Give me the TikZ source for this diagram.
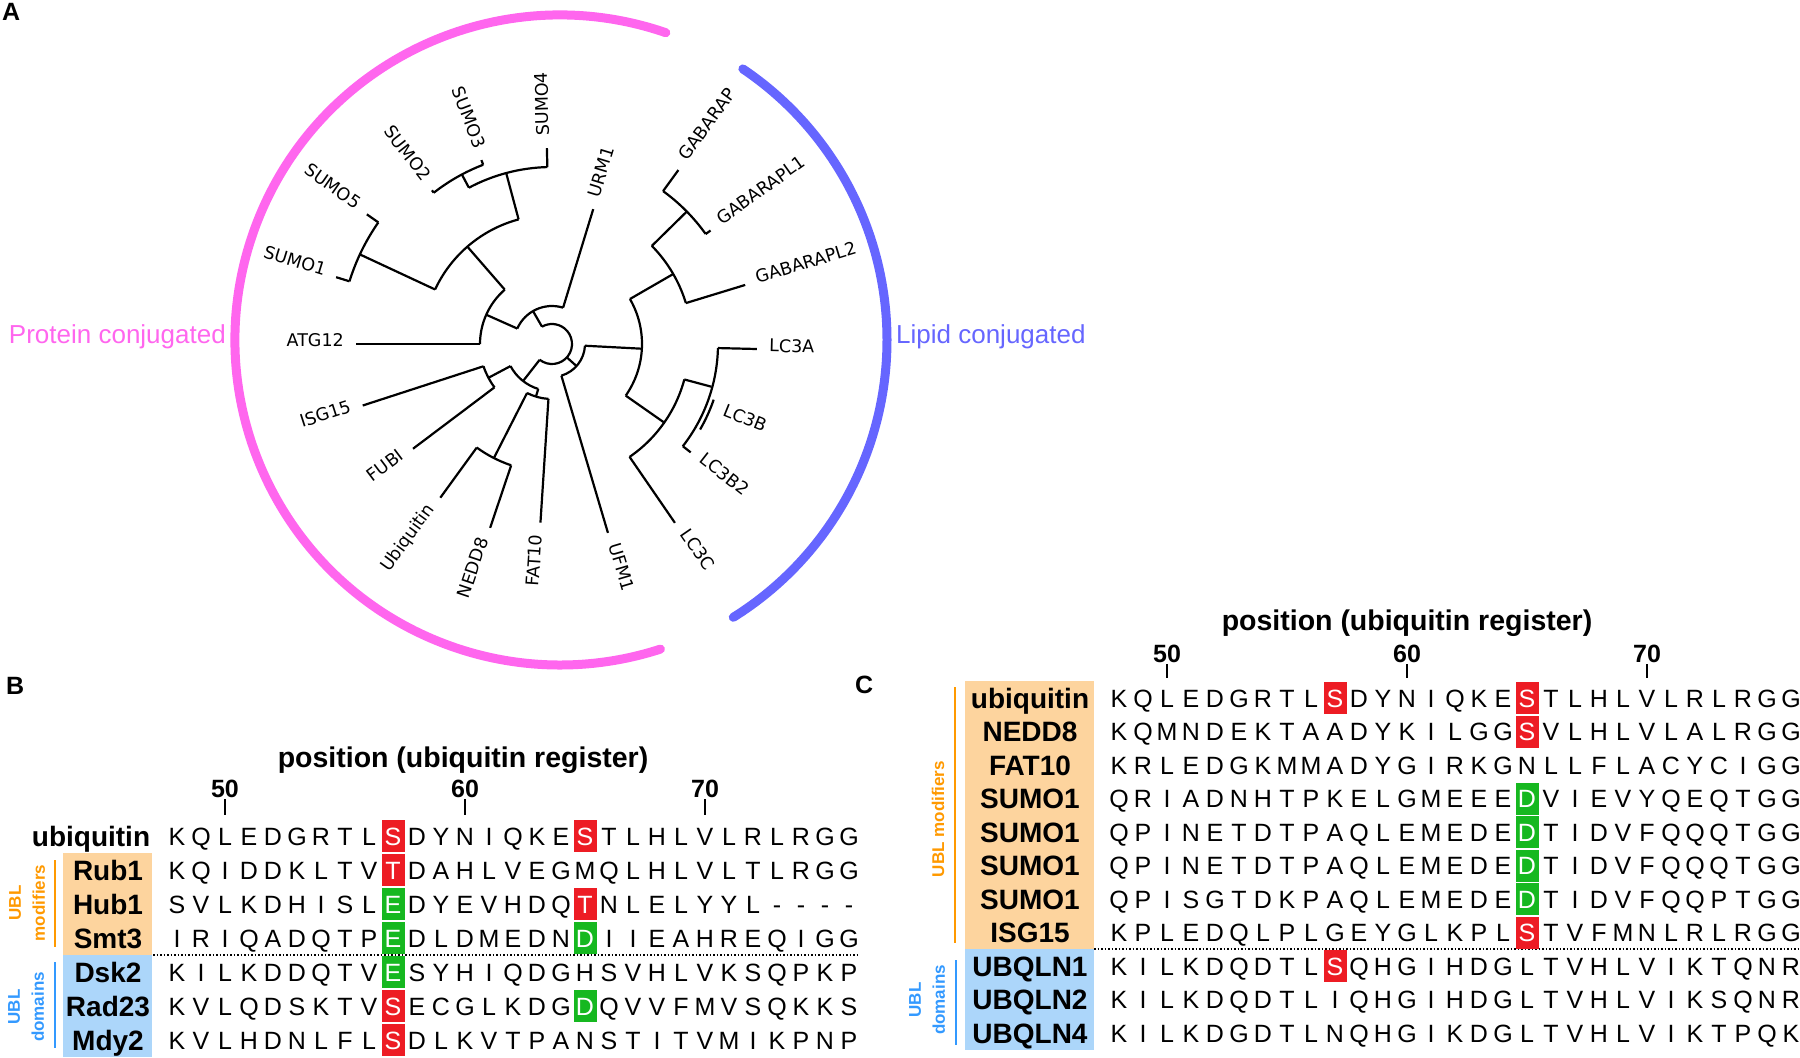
\documentclass[tikz,border=0pt]{standalone}
\usepackage{fontspec}
\setmainfont{Liberation Sans}
\newfontfamily\treefont{DejaVu Sans}

\definecolor{protpink}{RGB}{255,102,238}
\definecolor{lipidblue}{RGB}{102,102,255}
\definecolor{hlred}{RGB}{237,28,36}
\definecolor{hlgreen}{RGB}{22,184,32}
\definecolor{ublorange}{RGB}{255,153,0}
\definecolor{ublorangebg}{RGB}{253,212,158}
\definecolor{ublblue}{RGB}{51,153,255}
\definecolor{ublbluebg}{RGB}{172,214,250}

% one row of residues: #1 name, #2 x of residue 48, #3 row centre, #4 letters
% (! before a letter = red box, + before a letter = green box)
\newcount\rescol
\def\hlcol{}
\def\endres{endres-marker}
\newcommand\seqrow[4]{\global\rescol=0 \def\rowname{#1}\def\rowx{#2}\def\rowy{#3}\readres#4\endres}
\def\readres#1{%
  \ifx#1\endres \let\resnext\relax
  \else\ifx#1!\def\hlcol{hlred}\let\resnext\readres
  \else\ifx#1+\def\hlcol{hlgreen}\let\resnext\readres
  \else\putres{#1}\let\resnext\readres
  \fi\fi\fi\resnext}
\def\putres#1{%
  \ifx\hlcol\empty
    \node[res] (\rowname-\the\rescol) at (\rowx+24*\the\rescol, \rowy+9) {#1};%
  \else
    \fill[\hlcol] (\rowx+24*\the\rescol-11.5, \rowy-16) rectangle (\rowx+24*\the\rescol+11.5, \rowy+16);%
    \node[res, text=white] (\rowname-\the\rescol) at (\rowx+24*\the\rescol, \rowy+9) {#1};%
  \fi
  \global\advance\rescol by 1 \def\hlcol{}}

\begin{document}
\begin{tikzpicture}[x=1pt, y=-1pt,
    tree/.style={line width=2.2pt},
    leaf/.style={font=\treefont\fontsize{17.5}{18}\selectfont, inner sep=0pt},
    clade/.style={line width=9pt, line cap=round},
    res/.style={font=\fontsize{25}{25}\selectfont, anchor=base, inner sep=0pt},
    rowname/.style={font=\fontsize{28}{28}\selectfont\bfseries, anchor=base, inner sep=0pt},
    axislabel/.style={font=\fontsize{28.5}{28.5}\selectfont\bfseries, anchor=base, inner sep=0pt},
    ticknum/.style={font=\fontsize{25}{25}\selectfont\bfseries, anchor=base, inner sep=0pt},
    tickmark/.style={line width=2pt},
    panel/.style={font=\fontsize{25}{25}\selectfont\bfseries, anchor=base west, inner sep=0pt},
    ubl/.style={font=\fontsize{17}{24}\selectfont\bfseries, rotate=90, align=center, inner sep=0pt},
    conj/.style={font=\fontsize{26}{26}\selectfont, inner sep=0pt}]
    \useasboundingbox (0,0) rectangle (1800,1058);

    % ---- A: tree ----
    \node[panel] (lab-a) at (2,20) {A};
    \begin{scope}[shift={(560,340)}]
        \draw[clade, protpink] (71:325pt) arc[start angle=71, end angle=288, radius=325pt];
        \draw[clade, lipidblue] (-58:327pt) arc[start angle=-58, end angle=56, radius=327pt];
    \end{scope}
    \node[conj, text=protpink, anchor=base east] (prot) at (226,343) {Protein conjugated};
    \node[conj, text=lipidblue, anchor=base west] (lipid) at (896,343) {Lipid conjugated};

    \begin{scope}[shift={(552,344)}]
        % root
        \draw[tree] (-128:20pt) arc[start angle=-128, end angle=120, radius=20pt];
        % upper protein clade
        \draw[tree] (120:20pt) -- (120:38pt);
        \draw[tree] (73:38pt) arc[start angle=73, end angle=156, radius=38pt];
        \draw[tree] (73:38pt) -- (73:141pt);
        \draw[tree] (156:38pt) -- (156:72pt);
        \draw[tree] (131:72pt) arc[start angle=131, end angle=180, radius=72pt];
        \draw[tree] (180:72pt) -- (180:196pt);
        \draw[tree] (131:72pt) -- (131:129pt);
        \draw[tree] (105:129pt) arc[start angle=105, end angle=155, radius=129pt];
        \draw[tree] (155:129pt) -- (155:212pt);
        \draw[tree] (145:212pt) arc[start angle=145, end angle=162.8, radius=212pt];
        \draw[tree] (145:212pt) -- (145:226pt);
        \draw[tree] (162.8:212pt) -- (162.8:226pt);
        \draw[tree] (105:129pt) -- (105:177pt);
        \draw[tree] (91.5:177pt) arc[start angle=91.5, end angle=118, radius=177pt];
        \draw[tree] (91.5:177pt) -- (91.5:196pt);
        \draw[tree] (118:177pt) -- (118:192pt);
        \draw[tree] (111:192pt) arc[start angle=111, end angle=128, radius=192pt];
        \draw[tree] (128:192pt) -- (128:195pt);
        \draw[tree] (111:192pt) -- (111:197pt);
        % lower protein clade
        \draw[tree] (232:20pt) -- (232:47pt);
        \draw[tree] (208:47pt) arc[start angle=208, end angle=253, radius=47pt];
        \draw[tree] (208:47pt) -- (208:72pt);
        \draw[tree] (198:72pt) arc[start angle=198, end angle=217, radius=72pt];
        \draw[tree] (198:72pt) -- (198:199pt);
        \draw[tree] (217:72pt) -- (217:174pt);
        \draw[tree] (253:47pt) -- (253:55pt);
        \draw[tree] (243:55pt) arc[start angle=243, end angle=266.3, radius=55pt];
        \draw[tree] (266.3:55pt) -- (266.3:179pt);
        \draw[tree] (243:55pt) -- (243:128pt);
        \draw[tree] (234:128pt) arc[start angle=234, end angle=251.4, radius=128pt];
        \draw[tree] (234:128pt) -- (234:190pt);
        \draw[tree] (251.4:128pt) -- (251.4:194pt);
        % UFM1 and lipid clade
        \draw[tree] (-42:20pt) -- (-42:33pt);
        \draw[tree] (-73.5:33pt) arc[start angle=-73.5, end angle=-3, radius=33pt];
        \draw[tree] (-73.5:33pt) -- (-73.5:197pt);
        \draw[tree] (-3:33pt) -- (-3:90pt);
        \draw[tree] (-35:90pt) arc[start angle=-35, end angle=30, radius=90pt];
        \draw[tree] (30:90pt) -- (30:140pt);
        \draw[tree] (17:140pt) arc[start angle=17, end angle=44.5, radius=140pt];
        \draw[tree] (17:140pt) -- (17:202pt);
        \draw[tree] (44.5:140pt) -- (44.5:189pt);
        \draw[tree] (35.6:189pt) arc[start angle=35.6, end angle=54, radius=189pt];
        \draw[tree] (54:189pt) -- (54:215pt);
        \draw[tree] (35.6:189pt) -- (35.6:195pt);
        \draw[tree] (-35:90pt) -- (-35:137pt);
        \draw[tree] (-55.5:137pt) arc[start angle=-55.5, end angle=-15, radius=137pt];
        \draw[tree] (-55.5:137pt) -- (-55.5:217pt);
        \draw[tree] (-15:137pt) -- (-15:165pt);
        \draw[tree] (-38:166pt) arc[start angle=-38, end angle=-1.4, radius=166pt];
        \draw[tree] (-1.4:166pt) -- (-1.4:205pt);
        \draw[tree] (-38:166pt) -- (-38:176pt);
        \draw[tree] (-30:171pt) arc[start angle=-30, end angle=-19, radius=171pt];
        % leaf labels
        \node[leaf, anchor=mid east, rotate=0] (t-atg12) at (180:208pt) {ATG12};
        \node[leaf, anchor=mid east, rotate=-17.2] (t-sumo1) at (162.8:238pt) {SUMO1};
        \node[leaf, anchor=mid east, rotate=-35] (t-sumo5) at (145:238pt) {SUMO5};
        \node[leaf, anchor=mid east, rotate=-52] (t-sumo2) at (128:207pt) {SUMO2};
        \node[leaf, anchor=mid east, rotate=-69] (t-sumo3) at (111:209pt) {SUMO3};
        \node[leaf, anchor=mid west, rotate=91.5] (t-sumo4) at (91.5:208pt) {SUMO4};
        \node[leaf, anchor=mid west, rotate=73] (t-urm1) at (73:153pt) {URM1};
        \node[leaf, anchor=mid west, rotate=54] (t-gab) at (54:227pt) {GABARAP};
        \node[leaf, anchor=mid west, rotate=35.6] (t-gabl1) at (35.6:207pt) {GABARAPL1};
        \node[leaf, anchor=mid west, rotate=17] (t-gabl2) at (17:214pt) {GABARAPL2};
        \node[leaf, anchor=mid west, rotate=-1.4] (t-lc3a) at (-1.4:217pt) {LC3A};
        \node[leaf, anchor=mid west, rotate=-22] (t-lc3b) at (-22:184pt) {LC3B};
        \node[leaf, anchor=mid west, rotate=-38] (t-lc3b2) at (-38:188pt) {LC3B2};
        \node[leaf, anchor=mid west, rotate=-55.5] (t-lc3c) at (-55.5:229pt) {LC3C};
        \node[leaf, anchor=mid west, rotate=-73.5] (t-ufm1) at (-73.5:209pt) {UFM1};
        \node[leaf, anchor=mid east, rotate=86.3] (t-fat10) at (266.3:191pt) {FAT10};
        \node[leaf, anchor=mid east, rotate=71.4] (t-nedd8) at (251.4:206pt) {NEDD8};
        \node[leaf, anchor=mid east, rotate=54] (t-ubq) at (234:202pt) {Ubiquitin};
        \node[leaf, anchor=mid east, rotate=37] (t-fubi) at (217:186pt) {FUBI};
        \node[leaf, anchor=mid east, rotate=18] (t-isg15) at (198:211pt) {ISG15};
    \end{scope}

    % ---- B: yeast alignment ----
    \node[panel] (lab-b) at (6,694) {B};
    \node[axislabel] (b-axis) at (463,767) {position (ubiquitin register)};
    \foreach \p/\x in {50/225, 60/465, 70/705} {
        \node[ticknum] (b-tick\p) at (\x,797) {\p};
        \draw[tickmark] (\x,799) -- (\x,815);
    }
    \fill[ublorangebg] (63,853) rectangle (152,955);
    \fill[ublbluebg] (63,955) rectangle (152,1057);
    \draw[ublorange, line width=2pt] (55,860) -- (55,947);
    \draw[ublblue, line width=2pt] (55,962) -- (55,1048);
    \node[ubl, text=ublorange] (b-mod) at (27,903) {UBL\\modifiers};
    \node[ubl, text=ublblue] (b-dom) at (26,1007) {UBL\\domains};
    \draw[dotted, line width=1.5pt] (153,955) -- (857,955);

    \node[rowname] (b-ubq) at (91,846) {ubiquitin};
    \node[rowname] (b-rub1) at (108,880) {Rub1};
    \node[rowname] (b-hub1) at (108,914) {Hub1};
    \node[rowname] (b-smt3) at (108,948) {Smt3};
    \node[rowname] (b-dsk2) at (108,982) {Dsk2};
    \node[rowname] (b-rad23) at (108,1016) {Rad23};
    \node[rowname] (b-mdy2) at (108,1050) {Mdy2};

    \seqrow{b1}{177}{836}{KQLEDGRTL!SDYNIQKE!STLHLVLRLRGG}
    \seqrow{b2}{177}{870}{KQIDDKLTV!TDAHLVEGMQLHLVLTLRGG}
    \seqrow{b3}{177}{904}{SVLKDHISL+EDYEVHDQ!TNLELYYL----}
    \seqrow{b4}{177}{938}{IRIQADQTP+EDLDMEDN+DIIEAHREQIGG}
    \seqrow{b5}{177}{972}{KILKDDQTV+ESYHIQDGHSVHLVKSQPKP}
    \seqrow{b6}{177}{1006}{KVLQDSKTV!SECGLKDG+DQVVFMVSQKKS}
    \seqrow{b7}{177}{1040}{KVLHDNLFL!SDLKVTPANSTITVMIKPNP}

    % ---- C: human alignment ----
    \node[panel] (lab-c) at (855,693) {C};
    \node[axislabel] (c-axis) at (1407,630) {position (ubiquitin register)};
    \foreach \p/\x in {50/1167, 60/1407, 70/1647} {
        \node[ticknum] (c-tick\p) at (\x,662) {\p};
        \draw[tickmark] (\x,664) -- (\x,678);
    }
    \fill[ublorangebg] (965,681) rectangle (1094,949);
    \fill[ublbluebg] (965,949) rectangle (1094,1050);
    \draw[ublorange, line width=2pt] (955,687) -- (955,943);
    \draw[ublblue, line width=2pt] (956,960) -- (956,1045);
    \node[ubl, text=ublorange] (c-mod) at (938,819) {UBL modifiers};
    \node[ubl, text=ublblue] (c-dom) at (927,1000) {UBL\\domains};
    \draw[dotted, line width=1.5pt] (1094,949) -- (1800,949);

    \node[rowname] (c-ubq) at (1030,708) {ubiquitin};
    \node[rowname] (c-nedd8) at (1030,741.5) {NEDD8};
    \node[rowname] (c-fat10) at (1030,775) {FAT10};
    \node[rowname] (c-sumo1a) at (1030,808.5) {SUMO1};
    \node[rowname] (c-sumo1b) at (1030,842) {SUMO1};
    \node[rowname] (c-sumo1c) at (1030,875.5) {SUMO1};
    \node[rowname] (c-sumo1d) at (1030,909) {SUMO1};
    \node[rowname] (c-isg15) at (1030,942.5) {ISG15};
    \node[rowname] (c-ubqln1) at (1030,976) {UBQLN1};
    \node[rowname] (c-ubqln2) at (1030,1009.5) {UBQLN2};
    \node[rowname] (c-ubqln4) at (1030,1043) {UBQLN4};

    \seqrow{c1}{1119}{698}{KQLEDGRTL!SDYNIQKE!STLHLVLRLRGG}
    \seqrow{c2}{1119}{731.5}{KQMNDEKTAADYKILGG!SVLHLVLALRGG}
    \seqrow{c3}{1119}{765}{KRLEDGKMMADYGIRKGNLLFLACYCIGG}
    \seqrow{c4}{1119}{798.5}{QRIADNHTPKELGMEEE+DVIEVYQEQTGG}
    \seqrow{c5}{1119}{832}{QPINETDTPAQLEMEDE+DTIDVFQQQTGG}
    \seqrow{c6}{1119}{865.5}{QPINETDTPAQLEMEDE+DTIDVFQQQTGG}
    \seqrow{c7}{1119}{899}{QPISGTDKPAQLEMEDE+DTIDVFQQPTGG}
    \seqrow{c8}{1119}{932.5}{KPLEDQLPLGEYGLKPL!STVFMNLRLRGG}
    \seqrow{c9}{1119}{966}{KILKDQDTL!SQHGIHDGLTVHLVIKTQNR}
    \seqrow{c10}{1119}{999.5}{KILKDQDTLIQHGIHDGLTVHLVIKSQNR}
    \seqrow{c11}{1119}{1033}{KILKDGDTLNQHGIKDGLTVHLVIKTPQK}
\end{tikzpicture}
\end{document}
